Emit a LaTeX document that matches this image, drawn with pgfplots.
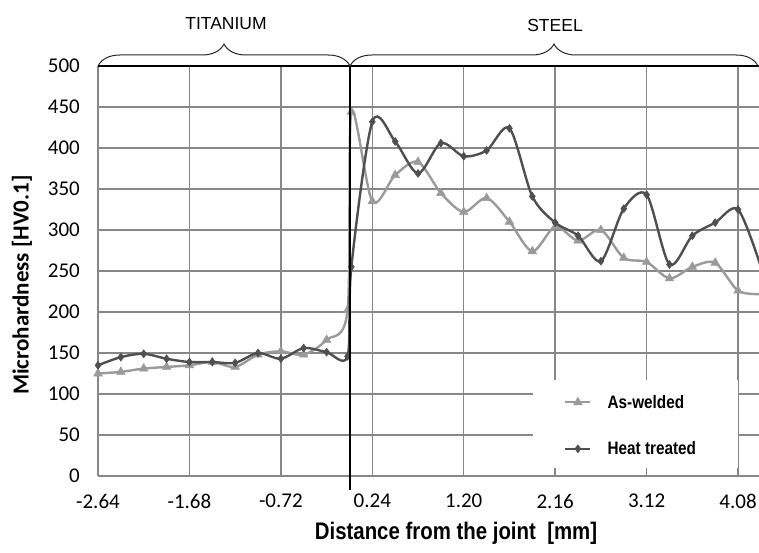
\documentclass[border=0pt]{standalone}
\usepackage{pgfplots}
\pgfplotsset{compat=1.18}
\usepackage{pgfplotstable}
\usepackage{fontspec}
\setmainfont{Carlito}
\newfontfamily\arialfont{Liberation Sans}
\newfontfamily\narrowfont[FakeStretch=0.85]{Liberation Sans}
\usetikzlibrary{decorations.pathreplacing}

\definecolor{htc}{HTML}{4F4F4F}
\definecolor{awc}{HTML}{9A9A9A}
\definecolor{gridc}{HTML}{878787}

% distance [mm]  microhardness [HV0.1]
\pgfplotstableread{
x     y
-2.64 125
-2.40 127
-2.16 131
-1.92 133
-1.68 135
-1.44 139
-1.20 133
-0.96 148
-0.72 152
-0.48 148
-0.24 166
-0.02 202
0.02  444
0.24  335
0.48  367
0.72  383
0.96  345
1.20  322
1.44  339
1.68  310
1.92  274
2.16  304
2.40  287
2.64  300
2.88  266
3.12  261
3.36  241
3.60  255
3.84  260
4.08  226
4.32  222
}\aswelded

\pgfplotstableread{
x     y
-2.64 135
-2.40 145
-2.16 149
-1.92 143
-1.68 139
-1.44 139
-1.20 138
-0.96 150
-0.72 143
-0.48 156
-0.24 151
-0.02 146
0.02  255
0.24  432
0.48  408
0.72  369
0.96  406
1.20  390
1.44  397
1.68  424
1.92  341
2.16  309
2.40  293
2.64  262
2.88  326
3.12  343
3.36  258
3.60  293
3.84  309
4.08  325
4.32  255
}\heattreated

\begin{document}
\begin{tikzpicture}
\useasboundingbox (0,0) rectangle (759pt,552pt);
\begin{axis}[
  at={(98pt,76pt)}, anchor=south west,
  width=661pt, height=410pt, scale only axis,
  xmin=-2.64, xmax=4.30, ymin=0, ymax=500,
  axis lines=left, axis line style={-, draw=gridc, line width=1.5pt},
  xtick={-2.64,-1.68,-0.72,0.24,1.20,2.16,3.12,4.08},
  xticklabels={-2.64,-1.68,-0.72,0.24,1.20,2.16,3.12,4.08},
  ytick={0,50,...,500},
  major tick length=0pt,
  grid=major, major grid style={draw=gridc, line width=1.5pt},
  tick label style={font=\fontsize{21}{24}\selectfont},
  /pgf/number format/assume math mode=true,
  yticklabel style={inner sep=0pt, xshift=-18pt},
  xticklabel style={inner sep=0pt, yshift=-18pt},
  clip mode=individual,
  legend style={at={(axis description cs:0.705,0.198)}, anchor=north west,
    draw=none, fill=none, inner sep=0pt, row sep=32pt,
    font=\narrowfont\bfseries\fontsize{18}{20}\selectfont,
    nodes={inner sep=0pt},
    /tikz/every odd column/.append style={column sep=16pt}},
  legend cell align=left,
  legend image code/.code={\draw[#1, mark repeat=2, mark phase=2]
    plot coordinates {(0pt,0pt) (12.5pt,0pt) (25pt,0pt)};},
]
\fill[white] (axis description cs:0.658,0.0195) rectangle (axis description cs:0.968,0.234);
\addplot[awc, line width=2.4pt, smooth, tension=0.5, mark=triangle*,
  mark size=5pt, mark options={solid, fill=awc, draw=awc, line width=0.5pt}]
  table[x=x, y=y] {\aswelded};
\addlegendentry{As-welded}
\addplot[htc, line width=2.4pt, smooth, tension=0.5, mark=diamond*,
  mark size=4pt, mark options={solid, fill=htc, draw=htc, line width=0.5pt}]
  table[x=x, y=y] {\heattreated};
\addlegendentry{Heat treated}
\end{axis}
% joint line, top border and region braces
\draw[black, line width=1.3pt] (98pt,486pt) -- (759pt,486pt);
\draw[black, line width=1.3pt] (350pt,486pt) -- (350pt,62pt);
\draw[decorate, decoration={brace, amplitude=22pt}, line width=1pt, black!85]
  (98pt,486pt) -- (350pt,486pt);
\draw[decorate, decoration={brace, amplitude=22pt}, line width=1pt, black!85]
  (350pt,486pt) -- (758pt,486pt);
\node[font=\arialfont\fontsize{17.5}{20}\selectfont] at (226pt,528pt) {TITANIUM};
\node[font=\arialfont\fontsize{17.5}{20}\selectfont] at (555pt,527pt) {STEEL};
\node[rotate=90, font=\bfseries\fontsize{23}{26}\selectfont] at (22pt,267pt)
  {Microhardness [HV0.1]};
\node[font=\narrowfont\bfseries\fontsize{24}{28}\selectfont] at (456pt,19pt)
  {Distance from the joint~ [mm]};
\end{tikzpicture}
\end{document}
